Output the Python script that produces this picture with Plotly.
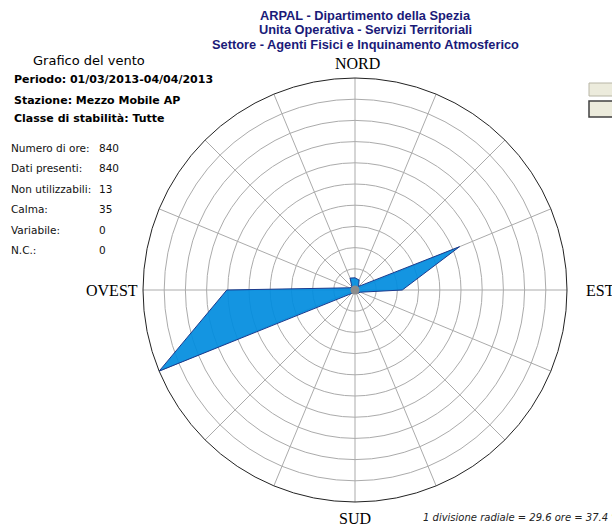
import plotly.graph_objects as go

# Wind rose: hours per sector (16 sectors, clockwise from North)
directions = ["N", "NNE", "NE", "ENE", "E", "ESE", "SE", "SSE",
              "S", "SSW", "SW", "WSW", "W", "WNW", "NW", "NNW"]
angles = [0, 22.5, 45, 67.5, 90, 112.5, 135, 157.5,
          180, 202.5, 225, 247.5, 270, 292.5, 315, 337.5]
hours = [17, 15, 7, 158, 66, 8, 6, 5, 5, 5, 7, 296, 179, 8, 6, 18]

radial_division = 29.6
n_divisions = 10

header_lines = ["ARPAL - Dipartimento della Spezia",
                "Unita Operativa - Servizi Territoriali",
                "Settore - Agenti Fisici e Inquinamento Atmosferico"]
info_lines = ["Periodo: 01/03/2013-04/04/2013",
              "Stazione: Mezzo Mobile AP",
              "Classe di stabilità: Tutte"]
stat_labels = ["Numero di ore:", "Dati presenti:", "Non utilizzabili:",
               "Calma:", "Variabile:", "N.C.:"]
stat_values = [840, 840, 13, 35, 0, 0]

W, H = 612, 528
cx, cy, R = 355, 290, 212

fig = go.Figure()
fig.add_trace(go.Scatterpolar(
    r=hours + hours[:1], theta=angles + angles[:1],
    mode="lines", fill="toself",
    fillcolor="rgba(0,140,222,0.92)",
    line=dict(color="#1c3a8c", width=1),
    hoverinfo="skip", showlegend=False,
))
fig.add_trace(go.Scatterpolar(
    r=[0], theta=[0], mode="markers",
    marker=dict(size=9, color="#8c8c8c"),
    hoverinfo="skip", showlegend=False,
))

grid = "#ababab"
fig.update_layout(
    width=W, height=H,
    margin=dict(l=0, r=0, t=0, b=0),
    paper_bgcolor="white", plot_bgcolor="white",
    polar=dict(
        domain=dict(x=[(cx - R) / W, (cx + R) / W],
                    y=[(H - cy - R) / H, (H - cy + R) / H]),
        bgcolor="white",
        radialaxis=dict(range=[0, radial_division * n_divisions],
                        dtick=radial_division, tick0=0,
                        showticklabels=False, ticks="",
                        showline=False, gridcolor=grid, gridwidth=1),
        angularaxis=dict(rotation=90, direction="clockwise",
                         dtick=22.5, showticklabels=False, ticks="",
                         showline=True, linecolor="#222222", linewidth=1,
                         gridcolor=grid, gridwidth=1),
    ),
)

ann = []
navy = "#1a1a78"
for i, t in enumerate(header_lines):
    ann.append(dict(x=365, y=15 + 14.5 * i, text=f"<b>{t}</b>",
                    font=dict(family="Liberation Sans", size=12.8, color=navy)))

ann.append(dict(x=89, y=61, text="Grafico del vento",
                font=dict(family="DejaVu Sans", size=13, color="black")))
for i, (t, y) in enumerate(zip(info_lines, [80, 100, 118])):
    ann.append(dict(x=12, y=y, text=f"<b>{t}</b>", xanchor="left",
                    font=dict(family="DejaVu Sans", size=11, color="black")))
for i, (lab, val) in enumerate(zip(stat_labels, stat_values)):
    y = 148 + 20.5 * i
    ann.append(dict(x=9, y=y, text=lab, xanchor="left",
                    font=dict(family="DejaVu Sans", size=10.5, color="#111111")))
    ann.append(dict(x=97, y=y, text=str(val), xanchor="left",
                    font=dict(family="DejaVu Sans", size=10.5, color="#111111")))

serif = dict(family="Liberation Serif", size=16, color="black")
ann.append(dict(x=cx + 2, y=63, text="NORD", font=serif))
ann.append(dict(x=cx, y=518, text="SUD", font=serif))
ann.append(dict(x=140, y=cy, text="OVEST", xanchor="right", font=serif))
ann.append(dict(x=584, y=cy, text="EST", xanchor="left", font=serif))

ann.append(dict(x=421, y=517, xanchor="left",
                text=f"<i>1 divisione radiale = {radial_division} ore = 37.4 ‰</i>",
                font=dict(family="DejaVu Sans", size=10, color="#222222")))

for a in ann:
    a.setdefault("xanchor", "center")
    a.update(xref="paper", yref="paper", showarrow=False, yanchor="middle")
    a["x"] = a["x"] / W
    a["y"] = 1 - a["y"] / H
fig.update_layout(annotations=ann)

# small toolbar buttons at the right edge
def px_rect(x0, y0, x1, y1, **kw):
    return dict(type="rect", xref="paper", yref="paper",
                x0=x0 / W, x1=x1 / W, y0=1 - y1 / H, y1=1 - y0 / H, **kw)

fig.update_layout(shapes=[
    px_rect(589, 83, 614, 96, fillcolor="#ecebdc", line=dict(color="#b8b6a6", width=1)),
    px_rect(589, 101, 614, 117, fillcolor="#ecebdc", line=dict(color="#404040", width=1.5)),
])

fig.write_html("out.html")
